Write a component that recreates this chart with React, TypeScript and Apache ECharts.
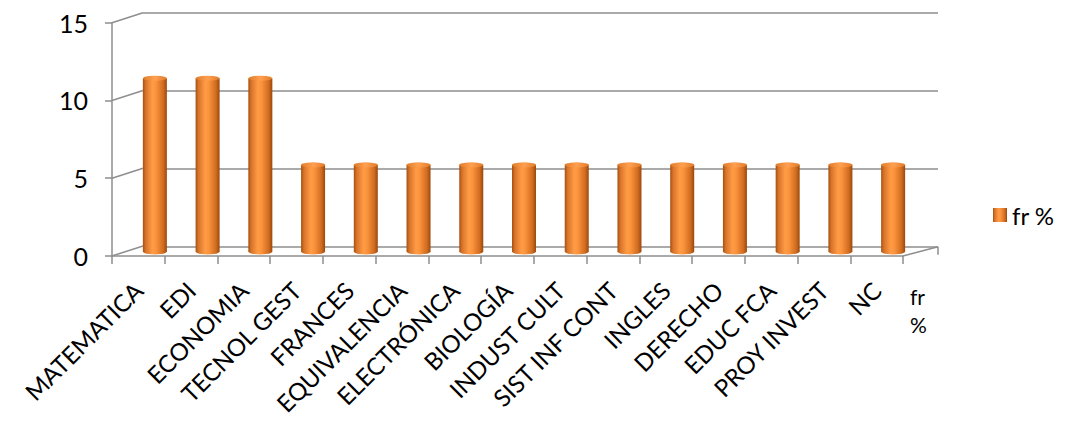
import React, { useEffect, useRef } from "react";
import * as echarts from "echarts";

const categories = [
  "MATEMATICA", "EDI", "ECONOMIA", "TECNOL GEST", "FRANCES", "EQUIVALENCIA",
  "ELECTRÓNICA", "BIOLOGÍA", "INDUST CULT", "SIST INF CONT", "INGLES",
  "DERECHO", "EDUC FCA", "PROY INVEST", "NC",
];
const seriesName = "fr %";
const frValues = [11.11, 11.11, 11.11, 5.56, 5.56, 5.56, 5.56, 5.56, 5.56, 5.56, 5.56, 5.56, 5.56, 5.56, 5.56];
const yTicks = [0, 5, 10, 15];
const Y_MAX = 15;
const Y_INTERVAL = 5;

// layout (pixels)
const FRONT = { left: 112, top: 22.7, width: 791, height: 233.3 };
const BACK = { left: 143, top: 12.7, width: 795, height: 234 };
const BARS = { left: 128.5, top: 17.5, width: 791, height: 234 };
const GRID_COLOR = "#8e8e8e";
const FONT = "Lato, 'Open Sans', sans-serif";

export default function App() {
  const ref = useRef<HTMLDivElement>(null);
  useEffect(() => {
    if (!ref.current) return;
    const chart = echarts.init(ref.current, undefined, { renderer: "svg" });

    const cylGrad = new echarts.graphic.LinearGradient(0, 0, 1, 0, [
      { offset: 0, color: "#a4500e" },
      { offset: 0.12, color: "#d8732a" },
      { offset: 0.4, color: "#ff9c45" },
      { offset: 0.55, color: "#fb933d" },
      { offset: 0.85, color: "#d06c20" },
      { offset: 1, color: "#9a480b" },
    ]);
    const topGrad = new echarts.graphic.LinearGradient(0, 0, 1, 0, [
      { offset: 0, color: "#e07c2a" },
      { offset: 0.5, color: "#ffa050" },
      { offset: 1, color: "#e07c2a" },
    ]);

    const frontBottom = FRONT.top + FRONT.height;
    const dx = BACK.left - FRONT.left;
    const dy = BACK.top - FRONT.top;
    const graphics: any[] = yTicks.map((v) => {
      const y = FRONT.top + FRONT.height * (1 - v / Y_MAX);
      return {
        type: "line",
        shape: { x1: FRONT.left, y1: y, x2: FRONT.left + dx, y2: y + dy },
        style: { stroke: GRID_COLOR, lineWidth: 1.5 },
        silent: true,
      };
    });
    const backRight = BACK.left + BACK.width;
    const backBottom = BACK.top + BACK.height;
    graphics.push({
      type: "line",
      shape: { x1: FRONT.left + FRONT.width, y1: frontBottom, x2: backRight, y2: backBottom },
      style: { stroke: GRID_COLOR, lineWidth: 1.5 },
      silent: true,
    });
    graphics.push({
      type: "line",
      shape: { x1: backRight, y1: backBottom, x2: backRight, y2: backBottom + 8 },
      style: { stroke: GRID_COLOR, lineWidth: 1.5 },
      silent: true,
    });
    graphics.push({
      type: "text",
      left: 910,
      top: 282,
      style: { text: "fr\n%", fontSize: 21, lineHeight: 28, fill: "#000", fontFamily: FONT },
    });

    chart.setOption({
      animation: false,
      backgroundColor: "#fff",
      legend: {
        data: [seriesName],
        left: 988,
        top: 198,
        itemWidth: 14,
        itemHeight: 14,
        itemGap: 5,
        icon: "rect",
        textStyle: { fontSize: 24, color: "#000", fontFamily: FONT },
      },
      grid: [
        { ...BACK, containLabel: false },
        { ...FRONT, containLabel: false },
        { ...BARS, containLabel: false },
      ],
      xAxis: [
        { type: "category", gridIndex: 0, data: categories, show: false },
        {
          type: "category",
          gridIndex: 1,
          data: categories,
          boundaryGap: true,
          axisLine: { show: true, lineStyle: { color: GRID_COLOR, width: 1.5 } },
          axisTick: { show: true, length: 8, interval: 0, lineStyle: { color: GRID_COLOR, width: 1.5 } },
          axisLabel: {
            interval: 0,
            rotate: 45,
            margin: 30,
            fontSize: 24,
            color: "#000",
            fontFamily: FONT,
          },
        },
        { type: "category", gridIndex: 2, data: categories, show: false },
      ],
      yAxis: [
        {
          type: "value", gridIndex: 0, min: 0, max: Y_MAX, interval: Y_INTERVAL,
          axisLine: { show: false }, axisTick: { show: false }, axisLabel: { show: false },
          splitLine: { show: true, lineStyle: { color: GRID_COLOR, width: 1.5 } },
        },
        {
          type: "value", gridIndex: 1, min: 0, max: Y_MAX, interval: Y_INTERVAL,
          axisLine: { show: true, lineStyle: { color: GRID_COLOR, width: 1.5 } },
          axisTick: { show: true, length: 7, lineStyle: { color: GRID_COLOR, width: 1.5 } },
          axisLabel: { fontSize: 25, color: "#000", margin: 24, fontFamily: FONT },
          splitLine: { show: false },
        },
        {
          type: "value", gridIndex: 2, min: 0, max: Y_MAX, interval: Y_INTERVAL, show: false,
          splitLine: { show: false },
        },
      ],
      series: [
        {
          name: seriesName,
          type: "bar",
          xAxisIndex: 2,
          yAxisIndex: 2,
          data: frValues,
          barWidth: 24,
          itemStyle: { color: cylGrad },
          z: 3,
        },
        {
          name: "bottom",
          type: "pictorialBar",
          xAxisIndex: 2,
          yAxisIndex: 2,
          data: frValues,
          symbol: "circle",
          symbolSize: [24, 6],
          symbolPosition: "start",
          symbolOffset: [0, "50%"],
          itemStyle: { color: cylGrad },
          z: 2,
          silent: true,
        },
        {
          name: "top",
          type: "pictorialBar",
          xAxisIndex: 2,
          yAxisIndex: 2,
          data: frValues,
          symbol: "circle",
          symbolSize: [24, 5],
          symbolPosition: "end",
          symbolOffset: [0, "-50%"],
          itemStyle: { color: topGrad, borderColor: "#c86a20", borderWidth: 0.5 },
          z: 4,
          silent: true,
        },
      ],
      color: ["#f79646"],
      graphic: graphics,
    });
    return () => chart.dispose();
  }, []);
  return (
    <div
      ref={ref}
      style={{ position: "absolute", left: 0, top: 0, width: 1074, height: 430 }}
    />
  );
}
